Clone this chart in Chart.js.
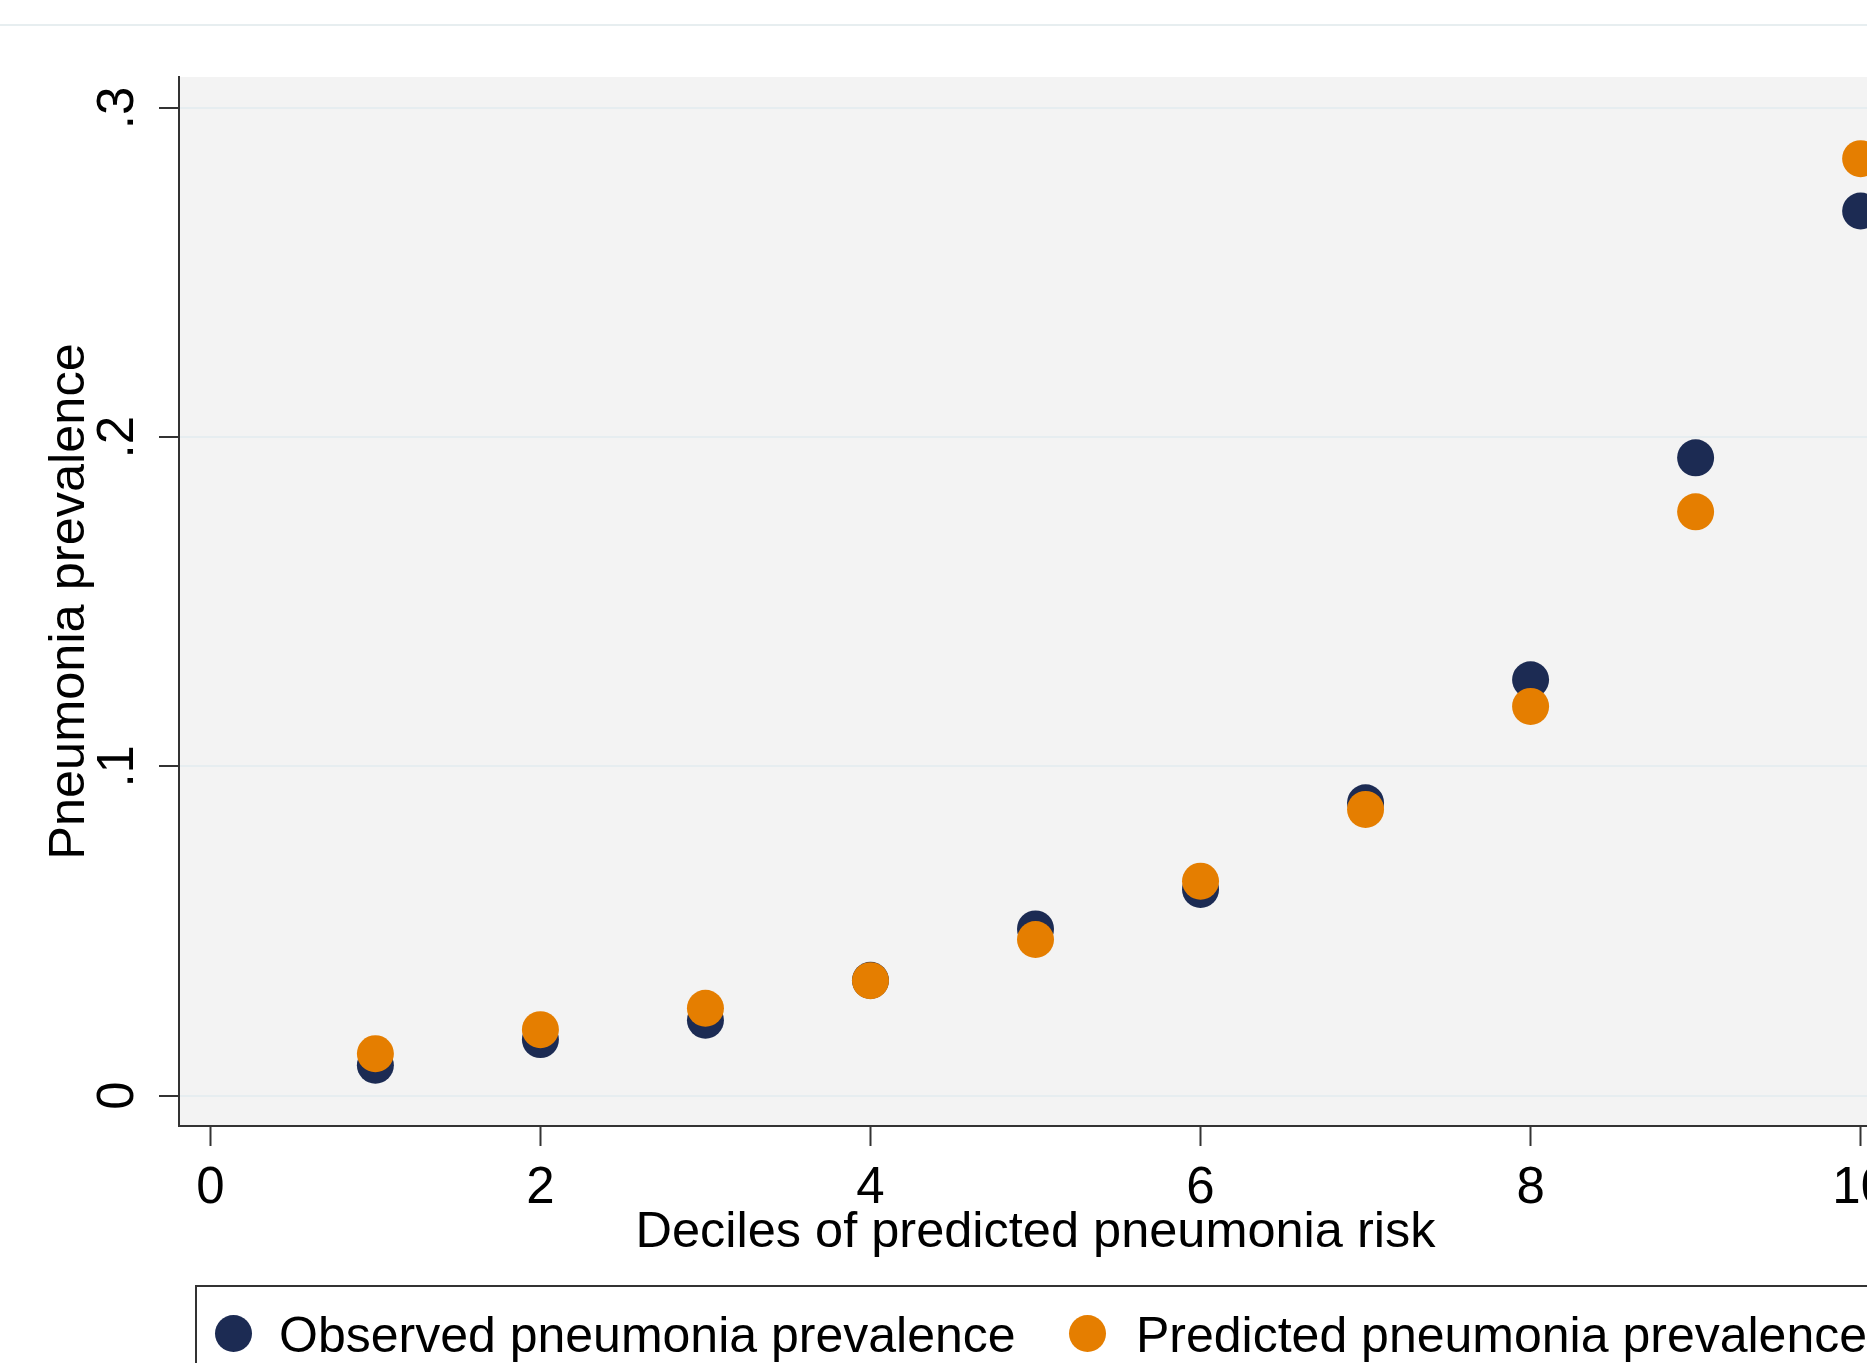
<!DOCTYPE html>
<html>
<head>
<meta charset="utf-8">
<script src="https://cdn.jsdelivr.net/npm/chart.js@4.4.0/dist/chart.umd.min.js"></script>
<style>
  html, body { margin: 0; padding: 0; background: #ffffff; overflow: hidden; width: 1867px; height: 1363px; }
  #wrap { position: relative; width: 1867px; height: 1363px; overflow: hidden; }
  #topline { position: absolute; left: 0; top: 24px; width: 1867px; height: 2px; background: #e7eef0; }
  #c { position: absolute; left: 0; top: 0; }
  #legend { position: absolute; left: 195px; top: 1285px; width: 1800px; height: 200px;
            border-top: 2px solid #333; border-left: 2px solid #333; background: #fff; }
  .lg-dot { position: absolute; width: 37px; height: 37px; border-radius: 50%; }
  .lg-txt { position: absolute; font-family: 'Liberation Sans', Arial, sans-serif; font-size: 50px;
            line-height: 50px; color: #000; white-space: nowrap; }
</style>
</head>
<body>
<div id="wrap">
  <div id="topline"></div>
  <canvas id="c" width="1960" height="1363"></canvas>
  <div id="legend"></div>
</div>
<script>
// ---- data ----
const deciles = [1, 2, 3, 4, 5, 6, 7, 8, 9, 10];
const observed = [0.0092, 0.0170, 0.0229, 0.0350, 0.0506, 0.0626, 0.0889, 0.1263, 0.1937, 0.2687];
const predicted = [0.0127, 0.0200, 0.0265, 0.0349, 0.0474, 0.0651, 0.0869, 0.1182, 0.1773, 0.2846];
const seriesLabels = ['Observed pneumonia prevalence', 'Predicted pneumonia prevalence'];
const xTickValues = [0, 2, 4, 6, 8, 10];
const xTickLabels = ['0', '2', '4', '6', '8', '10'];
const yTickValues = [0, 0.1, 0.2, 0.3];
const yTickLabels = ['0', '.1', '.2', '.3'];
const xTitle = 'Deciles of predicted pneumonia risk';
const yTitle = 'Pneumonia prevalence';

const NAVY = '#1c2b53';
const ORANGE = '#e57e00';
const FONT = "'Liberation Sans', Arial, sans-serif";

Chart.defaults.font.family = FONT;
Chart.defaults.color = '#000';

const plotBg = {
  id: 'plotBg',
  beforeDraw(chart) {
    const {ctx, chartArea: a} = chart;
    ctx.save();
    ctx.fillStyle = '#f3f3f3';
    ctx.fillRect(a.left, a.top, a.right - a.left, a.bottom - a.top);
    ctx.restore();
  }
};

const ds = [
  { label: seriesLabels[0], data: deciles.map((d, i) => ({x: d, y: observed[i]})), color: NAVY, order: 2 },
  { label: seriesLabels[1], data: deciles.map((d, i) => ({x: d, y: predicted[i]})), color: ORANGE, order: 1 }
];

const chart = new Chart(document.getElementById('c'), {
  type: 'scatter',
  data: {
    datasets: ds.map(d => ({
      label: d.label, data: d.data, order: d.order,
      backgroundColor: d.color, borderColor: d.color, borderWidth: 0,
      pointRadius: 18.5, pointHoverRadius: 18.5
    }))
  },
  options: {
    responsive: false,
    animation: false,
    events: [],
    layout: { padding: { left: 0, top: 77, right: 68, bottom: 77 } },
    plugins: { legend: { display: false }, tooltip: { enabled: false } },
    scales: {
      x: {
        type: 'linear', min: -0.19, max: 10.19,
        afterBuildTicks: s => { s.ticks = xTickValues.map(v => ({value: v})); },
        afterFit: s => { s.height = 160; },
        grid: { drawOnChartArea: false, drawTicks: true, tickLength: 20, tickColor: '#333', tickWidth: 2 },
        border: { display: true, color: '#333', width: 2 },
        ticks: {
          font: { size: 51, lineHeight: 1 }, color: '#000', padding: 17, maxRotation: 0, minRotation: 0,
          autoSkip: false,
          callback: (v) => { const i = xTickValues.indexOf(v); return i >= 0 ? xTickLabels[i] : ''; }
        },
        title: { display: true, text: xTitle, color: '#000', font: { size: 50.5, lineHeight: 1.2 }, padding: { top: 0, bottom: 22.5 } }
      },
      y: {
        type: 'linear', min: -0.00926, max: 0.3094,
        afterBuildTicks: s => { s.ticks = yTickValues.map(v => ({value: v})); },
        afterFit: s => { s.width = 179; },
        grid: { drawOnChartArea: true, color: '#e6edf0', lineWidth: 2, drawTicks: true, tickLength: 20, tickColor: '#333', tickWidth: 2 },
        border: { display: true, color: '#333', width: 2 },
        ticks: {
          font: { size: 51, lineHeight: 1 }, color: '#000', padding: 19, minRotation: 90, maxRotation: 90,
          crossAlign: 'center', autoSkip: false,
          callback: (v) => { const i = yTickValues.findIndex(t => Math.abs(t - v) < 1e-9); return i >= 0 ? yTickLabels[i] : ''; }
        },
        title: { display: true, text: yTitle, color: '#000', font: { size: 50.5, lineHeight: 1.2 }, padding: { top: 40, bottom: 0 } }
      }
    }
  },
  plugins: [plotBg]
});

// ---- legend (HTML, built from the datasets) ----
const legend = document.getElementById('legend');
const itemPos = [ { dot: 18, txt: 82 }, { dot: 872, txt: 939 } ];
chart.data.datasets.forEach((d, i) => {
  const dot = document.createElement('div');
  dot.className = 'lg-dot';
  dot.style.background = d.backgroundColor;
  dot.style.left = itemPos[i].dot + 'px';
  dot.style.top = (1333 - 1287 - 18.5) + 'px';
  legend.appendChild(dot);
  const t = document.createElement('div');
  t.className = 'lg-txt';
  t.textContent = d.label;
  t.style.left = itemPos[i].txt + 'px';
  t.style.top = (1334.5 - 1287 - 25) + 'px';
  legend.appendChild(t);
});
</script>
</body>
</html>
